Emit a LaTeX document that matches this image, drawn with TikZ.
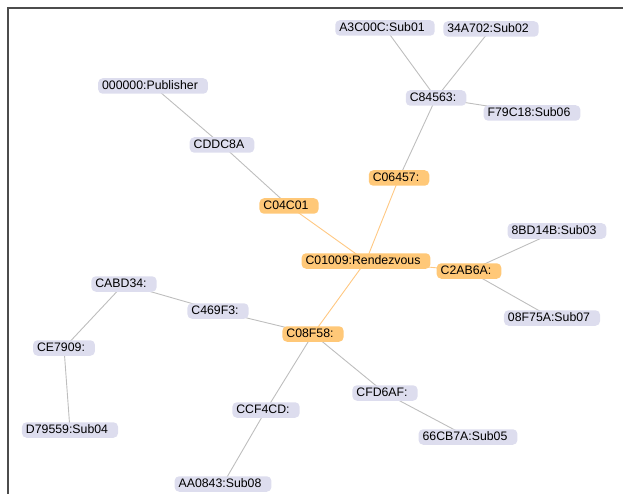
\documentclass[tikz,border=0pt]{standalone}
\usepackage{fontspec}
\setmainfont{Liberation Sans}
\usetikzlibrary{backgrounds}
\definecolor{subfill}{RGB}{221,221,238}
\definecolor{hubfill}{RGB}{255,200,120}
\definecolor{subline}{RGB}{190,190,190}
\definecolor{hubline}{RGB}{255,200,130}
\tikzset{
  peer/.style={rectangle, rounded corners=4.5pt, fill=subfill, inner xsep=4pt,
    inner ysep=1.5pt, text height=9.5pt, text depth=3pt,
    font=\fontsize{12.3}{14}\selectfont, execute at end node={\hspace{6pt}}},
  hub/.style={peer, fill=hubfill},
  plain/.style={draw=subline, line width=0.9pt},
  hot/.style={draw=hubline, line width=0.9pt}
}
\begin{document}
\begin{tikzpicture}[x=1pt, y=-1pt]
    \useasboundingbox (0,0) rectangle (623,494);
    %% frame (only top and left show)
    \draw[line width=1.2pt, black!70] (8,494) -- (8,8) -- (623,8);
    %% centre of the graph
    \node[hub] (rdv) at (366,261) {C01009:Rendezvous};
    \node[hub] (c04) at (289,206) {C04C01};
    \node[hub] (c06) at (399,178) {C06457:};
    \node[hub] (c2a) at (469,271) {C2AB6A:};
    \node[hub] (c08) at (313,334) {C08F58:};
    %% upper right
    \node[peer] (c84) at (436,98) {C84563:};
    \node[peer] (a3c) at (385,28) {A3C00C:Sub01};
    \node[peer] (s34) at (491,29) {34A702:Sub02};
    \node[peer] (f79) at (532,113) {F79C18:Sub06};
    %% upper left
    \node[peer] (pub) at (153,86) {000000:Publisher};
    \node[peer] (cdd) at (222,145) {CDDC8A};
    %% right
    \node[peer] (s8b) at (557,231) {8BD14B:Sub03};
    \node[peer] (s08) at (552,318) {08F75A:Sub07};
    %% left
    \node[peer] (cab) at (124,284) {CABD34:};
    \node[peer] (c46) at (218,311) {C469F3:};
    \node[peer] (ce7) at (64,348) {CE7909:};
    \node[peer] (d79) at (70,430) {D79559:Sub04};
    %% bottom
    \node[peer] (cfd) at (385,393) {CFD6AF:};
    \node[peer] (ccf) at (266,410) {CCF4CD:};
    \node[peer] (s66) at (468,437) {66CB7A:Sub05};
    \node[peer] (aa0) at (223,484) {AA0843:Sub08};
    %% links
    \begin{scope}[on background layer]
      \draw[hot] (rdv.center) -- (c04.center);
      \draw[hot] (rdv.center) -- (c06.center);
      \draw[hot] (rdv.center) -- (c2a.center);
      \draw[hot] (rdv.center) -- (c08.center);
      \draw[plain] (c84.center) -- (a3c.center);
      \draw[plain] (c84.center) -- (s34.center);
      \draw[plain] (c84.center) -- (f79.center);
      \draw[plain] (c84.center) -- (c06.center);
      \draw[plain] (pub.center) -- (cdd.center);
      \draw[plain] (cdd.center) -- (c04.center);
      \draw[plain] (c2a.center) -- (s8b.center);
      \draw[plain] (c2a.center) -- (s08.center);
      \draw[plain] (c08.center) -- (c46.center);
      \draw[plain] (c46.center) -- (cab.center);
      \draw[plain] (cab.center) -- (ce7.center);
      \draw[plain] (ce7.center) -- (d79.center);
      \draw[plain] (c08.center) -- (ccf.center);
      \draw[plain] (ccf.center) -- (aa0.center);
      \draw[plain] (c08.center) -- (cfd.center);
      \draw[plain] (cfd.center) -- (s66.center);
    \end{scope}
\end{tikzpicture}
\end{document}
